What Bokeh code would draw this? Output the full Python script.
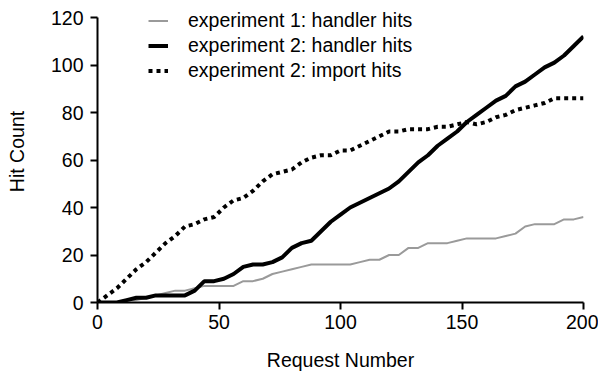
from bokeh.plotting import figure
from bokeh.models import Range1d, Legend, LegendItem, FixedTicker
from bokeh.embed import file_html
from bokeh.resources import INLINE

# Request numbers sampled along the run
requests = list(range(0, 201, 4))

# Cumulative hit counts per series
exp1_handler = [0, 0, 0, 1, 1, 2, 3, 4, 5, 5, 6, 7, 7, 7, 7, 9, 9, 10, 12, 13,
                14, 15, 16, 16, 16, 16, 16, 17, 18, 18, 20, 20, 23, 23, 25, 25, 25,
                26, 27, 27, 27, 27, 28, 29, 32, 33, 33, 33, 35, 35, 36]
exp2_handler = [0, 0, 0, 1, 2, 2, 3, 3, 3, 3, 5, 9, 9, 10, 12, 15, 16, 16, 17, 19,
                23, 25, 26, 30, 34, 37, 40, 42, 44, 46, 48, 51, 55, 59, 62, 66, 69,
                72, 76, 79, 82, 85, 87, 91, 93, 96, 99, 101, 104, 108, 112]
exp2_import = [0, 3, 6, 10, 14, 17, 21, 25, 28, 32, 33, 35, 36, 40, 43, 44, 47, 51,
               54, 55, 56, 59, 61, 62, 62, 64, 64, 66, 68, 70, 72, 72, 73, 73, 73,
               74, 74, 75, 76, 75, 76, 78, 79, 81, 82, 83, 84, 86, 86, 86, 86]

x_ticks = [0, 50, 100, 150, 200]
y_ticks = [0, 20, 40, 60, 80, 100, 120]

labels = ["experiment 1: handler hits",
          "experiment 2: handler hits",
          "experiment 2: import hits"]

FONT = "Liberation Sans"
FS = "19.5px"

# frame reaches the top edge so the legend has room; the y axis line
# itself stops at 120
p = figure(width=598, height=375, output_backend="svg", toolbar_location=None,
           x_range=Range1d(0, 200), y_range=Range1d(0, 127.16),
           min_border_left=97, min_border_right=15,
           min_border_top=0, min_border_bottom=73)

p.outline_line_color = None
p.xgrid.visible = False
p.ygrid.visible = False
p.background_fill_color = "white"
p.border_fill_color = "white"

r1 = p.line(requests, exp1_handler, line_color="#9a9a9a", line_width=2)
r2 = p.line(requests, exp2_handler, line_color="black", line_width=4)
r3 = p.line(requests, exp2_import, line_color="black", line_width=4,
            line_dash="4 4")

for ax, ticks in ((p.xaxis[0], x_ticks), (p.yaxis[0], y_ticks)):
    ax.ticker = FixedTicker(ticks=ticks)
    ax.minor_tick_line_color = None
    ax.major_tick_in = 0
    ax.major_tick_out = 7
    ax.axis_line_width = 2
    ax.major_tick_line_width = 2
    ax.axis_line_color = "black"
    ax.major_tick_line_color = "black"
    ax.major_label_text_font = FONT
    ax.major_label_text_font_size = FS
    ax.major_label_text_color = "black"
    ax.axis_label_text_font = FONT
    ax.axis_label_text_font_size = FS
    ax.axis_label_text_font_style = "normal"
    ax.axis_label_text_color = "black"

p.yaxis.bounds = (0, 120)
p.xaxis.axis_label = "Request Number"
p.yaxis.axis_label = "Hit Count"
p.xaxis.major_label_standoff = 5
p.xaxis.axis_label_standoff = 17
p.yaxis.major_label_standoff = 7
p.yaxis.axis_label_standoff = 20

# legend block anchored by its lower-left corner inside the frame
legend = Legend(items=[LegendItem(label=labels[0], renderers=[r1]),
                       LegendItem(label=labels[1], renderers=[r2]),
                       LegendItem(label=labels[2], renderers=[r3])],
                location=(51, 219.5), padding=0, margin=0, spacing=0,
                glyph_width=20, glyph_height=25, label_height=25,
                label_standoff=20, label_text_font=FONT,
                label_text_font_size=FS, label_text_color="black",
                background_fill_alpha=0, border_line_color=None)
p.add_layout(legend)

open("out.html", "w").write(file_html(p, INLINE))
